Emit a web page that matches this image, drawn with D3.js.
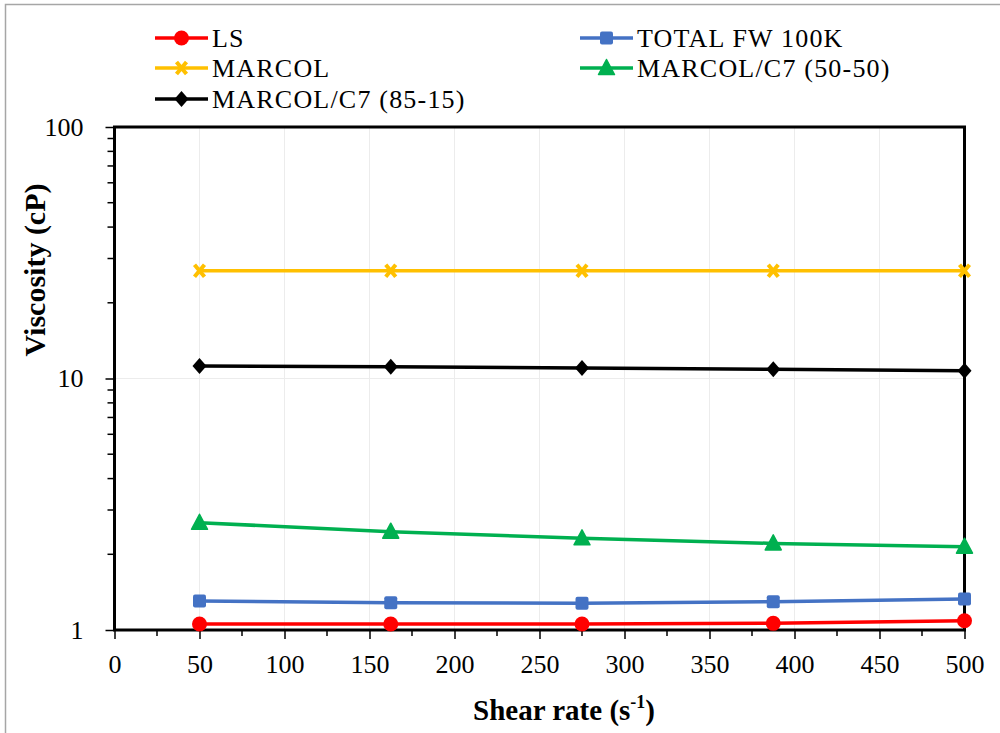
<!DOCTYPE html>
<html>
<head>
<script src="https://d3js.org/d3.v7.min.js"></script>
<style>
    body{ margin:0; background:#fff; }
    svg text{ font-family:"Times New Roman", "Liberation Serif", Tinos, "DejaVu Serif", serif !important; }
</style>
</head>
<body>
<div id="chart"></div>
<script>
// shear rates (s-1)
var shear = [50, 162.5, 275, 387.5, 500]

var ls      = [1.056, 1.056, 1.056, 1.063, 1.089]
var totalFw = [1.304, 1.284, 1.277, 1.296, 1.328]
var marcol  = [26.8, 26.8, 26.8, 26.8, 26.8]
var mc5050  = [2.67, 2.46, 2.315, 2.21, 2.144]
var mc8515  = [11.21, 11.14, 11.01, 10.88, 10.74]

var seriesNames = ["LS", "TOTAL FW 100K", "MARCOL", "MARCOL/C7 (50-50)", "MARCOL/C7 (85-15)"]
var seriesColors = ["#ff0000", "#4472c4", "#ffc000", "#00b050", "#000000"]
var seriesMarkers = ["circle", "square", "x", "triangle", "diamond"]

var xTicks = [0, 50, 100, 150, 200, 250, 300, 350, 400, 450, 500]
var yTicks = [1, 10, 100]

var allSeries = [ls, totalFw, marcol, mc5050, mc8515]

var W = 1000, H = 733
var svg = d3.select("#chart").append("svg").attr("width", W).attr("height", H)

// outer frame
svg.append("rect").attr("x", 5.5).attr("y", 4.5).attr("width", 1000).attr("height", 800)
    .attr("fill", "none").attr("stroke", "#a6a6a6").attr("stroke-width", 1.5)

var x = d3.scaleLinear().domain([0, 500]).range([114.5, 964.5])
var y = d3.scaleLog().domain([1, 100]).range([630, 127])

// faint grid
svg.append("g").selectAll("line").data(xTicks.slice(1, -1)).enter().append("line")
    .attr("x1", d => x(d)).attr("x2", d => x(d)).attr("y1", y(100)).attr("y2", y(1))
    .attr("stroke", "#ececec").attr("stroke-width", 1)
svg.append("line").attr("x1", x(0)).attr("x2", x(500)).attr("y1", y(10)).attr("y2", y(10))
    .attr("stroke", "#ececec").attr("stroke-width", 1)

// minor ticks
var xMinor = d3.range(25, 500, 50)
svg.append("g").selectAll("line").data(xMinor).enter().append("line")
    .attr("x1", d => x(d)).attr("x2", d => x(d)).attr("y1", y(1)).attr("y2", y(1) + 6)
    .attr("stroke", "#000").attr("stroke-width", 1.5)
var yMinor = []
;[1, 10].forEach(function(b){ for(var k = 2; k <= 9; k++) yMinor.push(b * k) })
svg.append("g").selectAll("line").data(yMinor).enter().append("line")
    .attr("x1", x(0) - 7).attr("x2", x(0)).attr("y1", d => y(d)).attr("y2", d => y(d))
    .attr("stroke", "#000").attr("stroke-width", 1.5)

// axes
var xAxis = svg.append("g").attr("transform", "translate(0," + y(1) + ")")
    .call(d3.axisBottom(x).tickValues(xTicks).tickSize(9).tickPadding(16).tickFormat(d3.format("d")))
var yAxis = svg.append("g").attr("transform", "translate(" + x(0) + ",0)")
    .call(d3.axisLeft(y).tickValues(yTicks).tickSize(9).tickPadding(22).tickFormat(d3.format("d")))
;[xAxis, yAxis].forEach(function(a){
    a.select(".domain").remove()
    a.selectAll(".tick line").attr("stroke", "#000").attr("stroke-width", 1.5)
    a.selectAll(".tick text").attr("font-size", 26).attr("fill", "#000")
})

// plot border
svg.append("rect").attr("x", x(0)).attr("y", y(100)).attr("width", x(500) - x(0)).attr("height", y(1) - y(100))
    .attr("fill", "none").attr("stroke", "#000").attr("stroke-width", 3)

function marker(g, type, color){
    if(type == "circle"){
        g.append("circle").attr("r", 7.5).attr("fill", color)
    } else if(type == "square"){
        g.append("rect").attr("x", -6.5).attr("y", -6.5).attr("width", 13).attr("height", 13).attr("rx", 2).attr("fill", color)
    } else if(type == "triangle"){
        g.append("path").attr("d", "M0,-8.5L8,6.5L-8,6.5Z").attr("fill", color).attr("stroke", color).attr("stroke-linejoin", "round").attr("stroke-width", 1.5)
    } else if(type == "diamond"){
        g.append("path").attr("d", "M0,-8L7,0L0,8L-7,0Z").attr("fill", color)
    } else if(type == "x"){
        g.append("path").attr("d", "M-5,-6L5,6M-5,6L5,-6").attr("stroke", color).attr("stroke-width", 4).attr("fill", "none")
    }
}

var line = d3.line().x((d, i) => x(shear[i])).y(d => y(d))

allSeries.forEach(function(vals, s){
    var g = svg.append("g")
    g.append("path").datum(vals).attr("d", line).attr("fill", "none")
        .attr("stroke", seriesColors[s]).attr("stroke-width", 3.5)
    vals.forEach(function(v, i){
        var m = g.append("g").attr("transform", "translate(" + x(shear[i]) + "," + y(v) + ")")
        marker(m, seriesMarkers[s], seriesColors[s])
    })
})

// legend
var legendPos = [[155, 38], [580, 38], [155, 68], [580, 68], [155, 99]]
seriesNames.forEach(function(name, s){
    var p = legendPos[s]
    var g = svg.append("g").attr("transform", "translate(" + p[0] + "," + p[1] + ")")
    g.append("line").attr("x1", 0).attr("x2", 53).attr("stroke", seriesColors[s]).attr("stroke-width", 3.5)
    marker(g.append("g").attr("transform", "translate(26.5,0)"), seriesMarkers[s], seriesColors[s])
    g.append("text").attr("x", 57).attr("y", 0).attr("dy", "0.35em")
        .attr("font-size", 26).attr("letter-spacing", 1.2).attr("fill", "#000").text(name)
})

// axis titles
svg.append("text").attr("transform", "translate(34,270) rotate(-90)")
    .attr("text-anchor", "middle").attr("font-weight", "bold").attr("font-size", 30).attr("dy", "0.35em").text("Viscosity (cP)")
var xt = svg.append("text").attr("x", 564).attr("y", 720)
    .attr("text-anchor", "middle").attr("font-weight", "bold").attr("font-size", 29)
xt.append("tspan").text("Shear rate (s")
xt.append("tspan").attr("font-size", 18).attr("dy", -12).text("-1")
xt.append("tspan").attr("dy", 12).text(")")
</script>
</body>
</html>
